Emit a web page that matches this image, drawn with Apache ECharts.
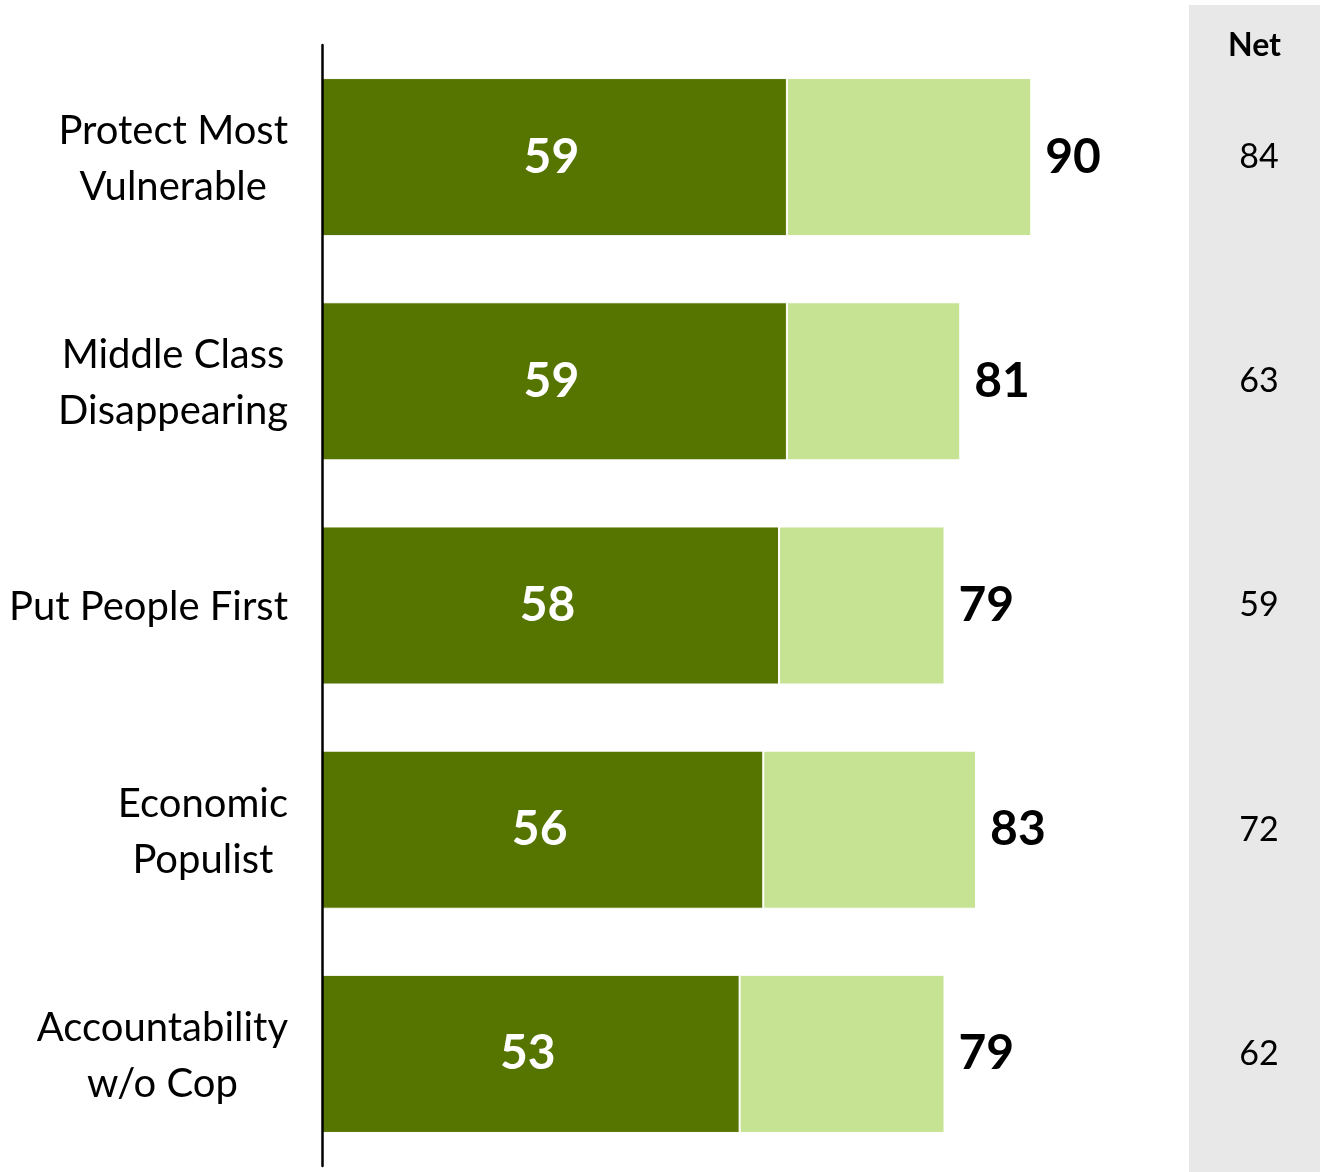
<!DOCTYPE html>
<html>
<head>
<meta charset="utf-8">
<script src="https://cdn.jsdelivr.net/npm/echarts@6/dist/echarts.min.js"></script>
<style>
  html, body { margin: 0; padding: 0; background: #fff; }
  #main { width: 1320px; height: 1172px; }
</style>
</head>
<body>
<div id="main"></div>
<script>
// data
const categories = ['Protect Most\nVulnerable', 'Middle Class\nDisappearing', 'Put People First', 'Economic\nPopulist', 'Accountability\nw/o Cop'];
const strong = [59, 59, 58, 56, 53];
const total = [90, 81, 79, 83, 79];
const net = [84, 63, 59, 72, 62];
// light segment = total minus the strong part
const somewhat = total.map((t, i) => t - strong[i]);

const chart = echarts.init(document.getElementById('main'));
const font = 'Lato, "Open Sans", sans-serif';

const option = {
  animation: false,
  textStyle: { fontFamily: font },
  grid: { left: 322, right: 210, top: 45, bottom: 6 },
  graphic: [
    {
      type: 'rect', z: -10,
      shape: { x: 1189, y: 5, width: 131, height: 1167 },
      style: { fill: '#e8e8e8' }
    },
    {
      type: 'text', left: 1228, top: 30,
      style: { text: 'Net', font: 'bold 32px ' + font, fill: '#000' }
    }
  ],
  xAxis: {
    type: 'value', min: 0, max: 100,
    show: false
  },
  yAxis: [
    {
      type: 'category',
      inverse: true,
      z: 5,
      data: categories,
      axisLine: { show: true, lineStyle: { color: '#000', width: 2.5 } },
      axisTick: { show: false },
      axisLabel: {
        margin: 34,
        align: 'right',
        formatter: v => v.split('\n').map(s => '{c|' + s + '}').join('\n'),
        rich: {
          c: { align: 'center', fontSize: 40, lineHeight: 56, color: '#000', fontFamily: font, padding: [4, 0, 0, 0] }
        }
      }
    },
    {
      type: 'category',
      inverse: true,
      position: 'right',
      offset: 141,
      data: net.map(String),
      axisLine: { show: false },
      axisTick: { show: false },
      axisLabel: {
        margin: 8, align: 'center',
        fontSize: 34, color: '#000', fontFamily: font
      }
    }
  ],
  series: [
    {
      name: 'Strong',
      type: 'bar',
      stack: 'all',
      barWidth: '70.5%',
      data: strong,
      itemStyle: { color: '#567400', borderColor: '#fff', borderWidth: 1 },
      label: {
        show: true, position: 'inside', offset: [-3, 0],
        color: '#fff', fontSize: 48, fontWeight: 'bold', fontFamily: font,
        textBorderWidth: 0
      }
    },
    {
      name: 'Somewhat',
      type: 'bar',
      stack: 'all',
      data: somewhat,
      itemStyle: { color: '#c6e394', borderColor: '#fff', borderWidth: 1 },
      label: {
        show: true, position: 'right', distance: 14,
        formatter: p => total[p.dataIndex],
        color: '#000', fontSize: 48, fontWeight: 'bold', fontFamily: font
      }
    }
  ]
};

chart.setOption(option);
</script>
</body>
</html>
